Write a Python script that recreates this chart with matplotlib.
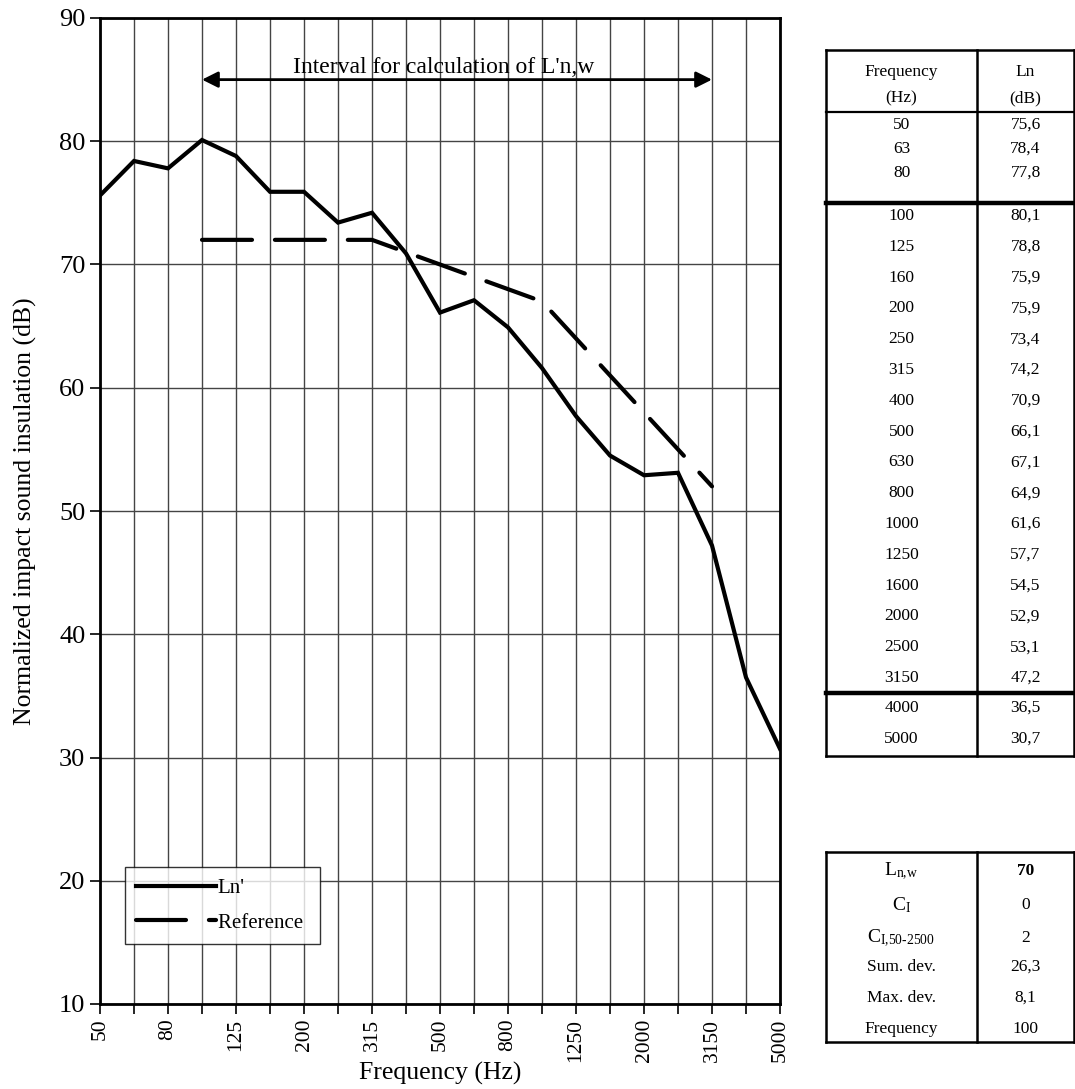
import matplotlib
matplotlib.use('Agg')
import matplotlib.pyplot as plt
import numpy as np

plt.rcParams['font.family'] = ['Liberation Serif', 'DejaVu Serif']
plt.rcParams['mathtext.fontset'] = 'custom'
plt.rcParams['mathtext.rm'] = 'Liberation Serif'
plt.rcParams['mathtext.it'] = 'Liberation Serif:italic'
plt.rcParams['mathtext.bf'] = 'Liberation Serif:bold'

# data
freqs = ['50', '63', '80', '100', '125', '160', '200', '250', '315', '400', '500',
         '630', '800', '1000', '1250', '1600', '2000', '2500', '3150', '4000', '5000']
ln = [75.6, 78.4, 77.8, 80.1, 78.8, 75.9, 75.9, 73.4, 74.2, 70.9, 66.1,
      67.1, 64.9, 61.6, 57.7, 54.5, 52.9, 53.1, 47.2, 36.5, 30.7]
ln_txt = ['75,6', '78,4', '77,8', '80,1', '78,8', '75,9', '75,9', '73,4', '74,2', '70,9', '66,1',
          '67,1', '64,9', '61,6', '57,7', '54,5', '52,9', '53,1', '47,2', '36,5', '30,7']
ref_freqs = ['100', '125', '160', '200', '250', '315', '400', '500',
             '630', '800', '1000', '1250', '1600', '2000', '2500', '3150']
ref = [72, 72, 72, 72, 72, 72, 71, 70, 69, 68, 67, 64, 61, 58, 55, 52]

res_labels = [r'$\mathrm{L}_{\text{n,w}}$', r'$\mathrm{C}_{\text{I}}$', r'$\mathrm{C}_{\text{I,50-2500}}$',
              'Sum. dev.', 'Max. dev.', 'Frequency']
res_values = ['70', '0', '2', '26,3', '8,1', '100']

W, H = 1075, 1089
fig = plt.figure(figsize=(W / 100, H / 100), dpi=100)
ax = fig.add_axes([100 / W, (H - 1004) / H, 680 / W, 986 / H])

x = np.arange(len(freqs))
xref = np.array([freqs.index(f) for f in ref_freqs])

ax.plot(x, ln, color='black', lw=3, solid_joinstyle='miter', label="Ln'", zorder=3)
ax.plot(xref, ref, color='black', lw=3, linestyle=(0, (12, 5.5)), dash_capstyle='round',
        label='Reference', zorder=3)

ax.set_xlim(0, len(freqs) - 1)
ax.set_ylim(10, 90)
ax.set_xticks(x)
ax.set_xticklabels([f if i % 2 == 0 else '' for i, f in enumerate(freqs)], rotation=90)
ax.set_yticks(np.arange(10, 91, 10))
ax.tick_params(axis='both', direction='out', length=7, width=1.2, colors='black')
ax.tick_params(axis='y', labelsize=19)
ax.tick_params(axis='x', labelsize=15.5)
ax.grid(True, color='#444444', lw=1.0)
ax.set_axisbelow(True)
for s in ax.spines.values():
    s.set_linewidth(2)
ax.set_xlabel('Frequency (Hz)', fontsize=18.5, labelpad=0)
ax.set_ylabel('Normalized impact sound insulation (dB)', fontsize=18.5, labelpad=16)

# interval arrow
ax.annotate('', xy=(3, 85), xytext=(18, 85),
            arrowprops=dict(arrowstyle='<|-|>', color='black', lw=2, mutation_scale=24, shrinkA=0, shrinkB=0))
ax.text(10.1, 86.0, "Interval for calculation of L'n,w", ha='center', va='center', fontsize=17)

leg = ax.legend(loc='lower left', bbox_to_anchor=(25 / 680, (1004 - 944) / 986), fontsize=15,
                frameon=True, fancybox=False, edgecolor='black', handlelength=3.8,
                handletextpad=0.1, labelspacing=0.7, borderpad=0.55, borderaxespad=0)
leg.get_frame().set_linewidth(1)
leg.get_texts()[1].set_text('Reference ')

# tables drawn in pixel coordinates
tx = fig.add_axes([0, 0, 1, 1])
tx.set_xlim(0, W)
tx.set_ylim(H, 0)
tx.axis('off')

L, M, R = 826, 977, 1074
c1, c2 = (L + M) / 2, (M + R) / 2
fs = 12.5

# table 1
top, bot = 50, 756
tx.plot([L, R], [top, top], color='black', lw=1.8)
tx.plot([L, R], [bot, bot], color='black', lw=1.8)
tx.plot([L, L], [top, bot], color='black', lw=1.8)
tx.plot([R, R], [top, bot], color='black', lw=1.8)
tx.plot([M, M], [top, bot], color='black', lw=1.8)
tx.plot([L, R], [112, 112], color='black', lw=1.6)
tx.plot([L, R], [203, 203], color='black', lw=3.2)
tx.plot([L, R], [693, 693], color='black', lw=3.2)
tx.text(c1, 72, 'Frequency', ha='center', va='center', fontsize=fs)
tx.text(c1, 98, '(Hz)', ha='center', va='center', fontsize=fs)
tx.text(c2, 72, 'Ln', ha='center', va='center', fontsize=fs)
tx.text(c2, 98, '(dB)', ha='center', va='center', fontsize=fs)

ys = []
for i in range(len(freqs)):
    if i < 3:
        ys.append(125 + 24 * i)
    elif i < 19:
        ys.append(216 + 30.8 * (i - 3))
    else:
        ys.append(708 + 31 * (i - 19))
for f, v, yy in zip(freqs, ln_txt, ys):
    tx.text(c1, yy, f, ha='center', va='center', fontsize=fs)
    tx.text(c2, yy, v, ha='center', va='center', fontsize=fs)

# table 2
top2, bot2 = 852, 1042
tx.plot([L, R], [top2, top2], color='black', lw=1.8)
tx.plot([L, R], [bot2, bot2], color='black', lw=1.8)
tx.plot([L, L], [top2, bot2], color='black', lw=1.8)
tx.plot([R, R], [top2, bot2], color='black', lw=1.8)
tx.plot([M, M], [top2, bot2], color='black', lw=1.8)
ys2 = [871, 905, 938, 967, 998, 1029]
for lab, v, yy in zip(res_labels, res_values, ys2):
    tx.text(c1, yy, lab, ha='center', va='center', fontsize=fs + (1.5 if lab.startswith('$') else 0))
    tx.text(c2, yy, v, ha='center', va='center', fontsize=fs,
            fontweight='bold' if v == '70' else 'normal')

fig.savefig('out.png', dpi=100)
